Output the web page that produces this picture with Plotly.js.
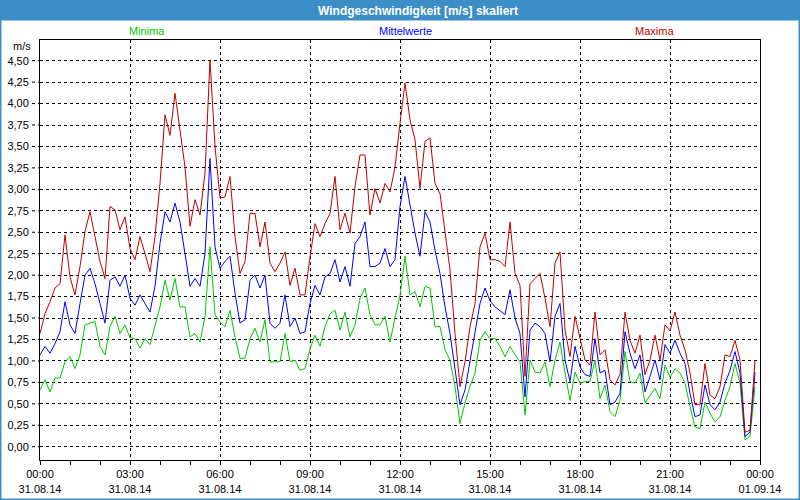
<!DOCTYPE html>
<html>
<head>
<meta charset="utf-8">
<script src="https://cdn.plot.ly/plotly-3.0.1.min.js"></script>
<style>html,body{margin:0;padding:0;background:#fff;}#chart{width:800px;height:500px;}</style>
</head>
<body>
<div id="chart"></div>
<script>
// ---- data (10-minute values, 31.08.2014 00:00 .. 23:50) ----
const minima = [0.66,0.78,0.64,0.80,0.80,0.99,1.05,0.91,1.07,1.42,1.44,1.46,1.17,1.07,1.40,1.52,1.32,1.42,1.27,
1.26,1.15,1.26,1.19,1.40,1.63,1.94,1.71,1.96,1.63,1.63,1.28,1.32,1.22,1.52,2.33,1.54,1.45,
1.40,1.59,1.28,1.03,1.03,1.26,1.38,1.22,1.48,0.99,0.99,0.99,1.32,0.99,1.01,0.89,0.91,1.14,
1.30,1.17,1.40,1.55,1.59,1.36,1.57,1.28,1.42,1.73,1.85,1.54,1.42,1.42,1.52,1.22,1.50,1.76,
2.22,1.77,1.81,1.63,1.87,1.85,1.40,1.40,1.13,1.01,0.70,0.27,0.51,0.70,0.86,1.24,1.34,1.26,
1.26,1.17,1.05,1.17,1.07,0.99,0.37,1.01,0.87,0.86,0.99,0.70,1.01,1.22,0.86,0.54,0.87,0.74,
0.76,0.76,1.01,0.56,0.72,0.41,0.35,0.54,1.11,0.76,0.74,0.86,0.51,0.60,0.68,0.56,0.95,0.81,
0.91,0.86,0.74,0.47,0.23,0.21,0.52,0.39,0.29,0.35,0.54,0.70,0.97,0.74,0.08,0.12,0.70];

const mittelwerte = [1.07,1.17,1.09,1.20,1.34,1.69,1.42,1.32,1.67,2.00,2.08,1.90,1.67,1.44,1.94,1.98,1.87,2.00,1.73,
1.65,1.77,1.67,1.57,1.87,2.37,2.74,2.62,2.84,2.62,2.25,1.87,1.96,1.87,2.25,3.36,2.33,2.08,
2.16,2.22,1.79,1.44,1.48,1.94,2.00,1.85,2.00,1.44,1.38,1.44,1.77,1.40,1.50,1.32,1.34,1.67,
1.88,1.77,1.98,2.02,2.18,1.92,2.10,1.87,2.37,2.45,2.62,2.10,2.10,2.14,2.31,2.10,2.18,2.80,
3.15,2.80,2.49,2.22,2.74,2.62,2.29,2.02,1.63,1.32,0.93,0.49,0.66,1.01,1.32,1.67,1.85,1.70,
1.63,1.59,1.54,1.83,1.50,1.32,0.58,1.36,1.44,1.40,1.32,0.99,1.52,1.67,1.01,0.76,1.17,0.93,
0.84,0.82,1.26,0.86,0.89,0.49,0.52,0.62,1.34,1.09,0.91,1.07,0.64,0.82,1.01,0.78,1.19,1.09,
1.24,1.09,0.97,0.62,0.35,0.37,0.72,0.49,0.43,0.52,0.74,0.89,1.11,0.86,0.12,0.17,0.87];

const maxima = [1.32,1.55,1.69,1.85,1.90,2.47,1.98,1.77,2.10,2.51,2.74,2.45,2.16,1.96,2.80,2.76,2.53,2.68,2.31,
2.18,2.45,2.25,2.04,2.45,3.07,3.87,3.63,4.12,3.69,3.26,2.57,2.88,2.70,3.19,4.51,3.50,2.90,
2.91,3.15,2.45,2.02,2.16,2.72,2.72,2.33,2.62,2.14,2.04,2.14,2.27,1.88,2.08,1.77,1.77,2.21,
2.60,2.45,2.60,2.72,3.15,2.53,2.72,2.49,3.03,3.40,3.40,2.70,3.01,2.84,3.07,2.97,3.26,3.77,
4.24,3.81,3.58,3.01,3.56,3.60,3.07,2.95,2.53,2.06,1.32,0.70,0.99,1.40,1.67,2.33,2.49,2.18,
2.18,2.16,2.10,2.62,2.02,1.88,0.82,1.90,1.96,2.02,1.73,1.40,2.14,2.27,1.36,1.05,1.52,1.25,
1.01,0.95,1.57,1.07,1.13,0.78,0.72,0.84,1.57,1.24,1.09,1.30,0.84,1.01,1.30,1.01,1.42,1.35,
1.57,1.30,1.13,0.86,0.49,0.49,0.97,0.60,0.56,0.70,1.07,1.05,1.24,1.01,0.17,0.19,1.01];

const seriesNames = ["Minima", "Mittelwerte", "Maxima"];
const xTickVals = ["2014-08-31 00:00","2014-08-31 03:00","2014-08-31 06:00","2014-08-31 09:00","2014-08-31 12:00",
                   "2014-08-31 15:00","2014-08-31 18:00","2014-08-31 21:00","2014-09-01 00:00"];
const xTickText = ["00:00<br>31.08.14","03:00<br>31.08.14","06:00<br>31.08.14","09:00<br>31.08.14","12:00<br>31.08.14",
                   "15:00<br>31.08.14","18:00<br>31.08.14","21:00<br>31.08.14","00:00<br>01.09.14"];
const yTickVals = [0,0.25,0.5,0.75,1,1.25,1.5,1.75,2,2.25,2.5,2.75,3,3.25,3.5,3.75,4,4.25,4.5];

// ---- timestamps for the 10-minute grid ----
const pad = n => (n < 10 ? "0" : "") + n;
const times = minima.map((_, i) => {
  const m = i * 10;
  return "2014-08-31 " + pad(Math.floor(m / 60)) + ":" + pad(m % 60);
});

const colors = ["#00c800", "#0000ff", "#c00000"];
const font = "Liberation Sans, Arial, sans-serif";
const W = 720, H = 420; // plot area px

const traces = [minima, mittelwerte, maxima].map((vals, k) => ({
  type: "scatter", mode: "lines", x: times, y: vals, name: seriesNames[k],
  line: {color: colors[k], width: 1}, hoverinfo: "skip"
}));

const shapes = [
  // title bar
  {type: "rect", xref: "paper", yref: "paper", x0: -42 / W, x1: 1 + 42 / W,
   y0: 1 + 19.5 / H, y1: 1 + 41 / H, fillcolor: "#3c8fc6", line: {width: 0}, layer: "below"},
  // window frame
  {type: "rect", xref: "paper", yref: "paper", x0: -40 / W, x1: 1 + 40 / W,
   y0: -40 / H, y1: 1 + 40 / H, fillcolor: "rgba(0,0,0,0)", line: {color: "#3c8fc6", width: 3}}
];
// dashed outside tick marks on the y axis
yTickVals.forEach(v => shapes.push({type: "line", xref: "paper", yref: "y", x0: -8 / W, x1: 0, y0: v, y1: v,
  line: {color: "#000", width: 1, dash: "3px,3px"}}));

const annotations = seriesNames.map((n, k) => ({
  text: n, xref: "paper", yref: "paper", x: [0.149, 0.507, 0.854][k], y: 1 + 9 / H,
  xanchor: "center", yanchor: "middle", showarrow: false, font: {color: colors[k], size: 11, family: font}
}));
annotations.push({text: "m/s", xref: "paper", yref: "paper", x: -7 / W, y: 1 - 6 / H, xanchor: "right",
  yanchor: "middle", showarrow: false, font: {color: "#000", size: 11, family: font}});

const layout = {
  width: 800, height: 500,
  margin: {l: 40, r: 40, t: 40, b: 40, pad: 0},
  paper_bgcolor: "#fff", plot_bgcolor: "#fff",
  showlegend: false,
  separators: ", ",
  font: {family: font, size: 11, color: "#000"},
  title: {text: "<b>Windgeschwindigkeit [m/s] skaliert</b>", xref: "container", yref: "container",
          x: 0.5225, y: 1 - 10.5 / 500, xanchor: "center", yanchor: "middle",
          font: {color: "#fff", size: 12, family: font}},
  xaxis: {
    type: "date", range: ["2014-08-31 00:00", "2014-09-01 00:00"],
    tickvals: xTickVals, ticktext: xTickText, ticks: "outside", ticklen: 4, tickcolor: "#000",
    showgrid: true, gridcolor: "#000", gridwidth: 1, griddash: "3px,3px",
    showline: true, linecolor: "#000", linewidth: 1, mirror: true, zeroline: false,
    minor: {dtick: 3600000, tick0: "2014-08-31 00:00", ticks: "outside", ticklen: 4, tickcolor: "#000", showgrid: false},
    tickfont: {size: 11, family: font}
  },
  yaxis: {
    range: [-0.155, 4.741], tickvals: yTickVals, tickformat: ".2f", ticks: "",
    showgrid: true, gridcolor: "#000", gridwidth: 1, griddash: "3px,3px",
    showline: true, linecolor: "#000", linewidth: 1, mirror: true, zeroline: false,
    ticklabelstandoff: 8, tickfont: {size: 11, family: font}
  },
  shapes: shapes, annotations: annotations
};

Plotly.newPlot("chart", traces, layout, {displayModeBar: false, staticPlot: true});
</script>
</body>
</html>
